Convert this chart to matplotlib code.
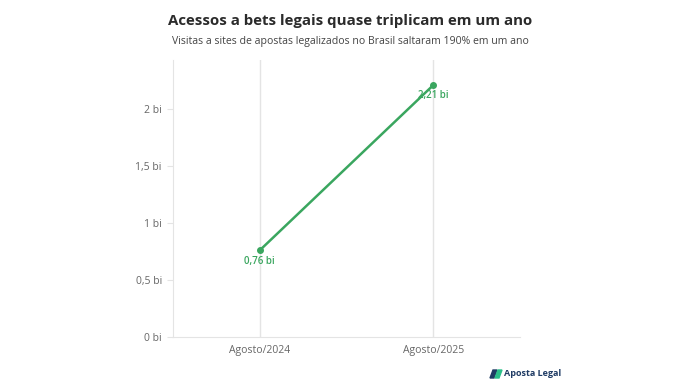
import matplotlib.pyplot as plt
from matplotlib.patches import Polygon

# data
periodos = ['Agosto/2024', 'Agosto/2025']
acessos = [0.76, 2.21]  # bilhões de visitas
rotulos = ['0,76 bi', '2,21 bi']
yticks = [0, 0.5, 1, 1.5, 2]
ytick_labels = ['0 bi', '0,5 bi', '1 bi', '1,5 bi', '2 bi']

verde = '#3aa65f'
cinza = '#e4e4e4'

plt.rcParams['font.family'] = ['Open Sans', 'DejaVu Sans']

fig = plt.figure(figsize=(7, 3.9), dpi=100)
ax = fig.add_axes([0.247, 0.136, 0.496, 0.71])

x = list(range(len(periodos)))
ax.plot(x, acessos, color=verde, lw=1.8, marker='o', ms=4, zorder=3)
ax.text(x[0], acessos[0] - 0.05, rotulos[0], color=verde, fontsize=7,
        ha='center', va='top', fontweight='semibold')
ax.text(x[1], acessos[1] - 0.04, rotulos[1], color=verde, fontsize=7,
        ha='center', va='top', fontweight='semibold', zorder=4)

ax.set_xlim(-0.5, 1.5)
ax.set_ylim(0, 2.43)
ax.set_xticks(x)
ax.set_xticklabels(periodos)
ax.set_yticks(yticks)
ax.set_yticklabels(ytick_labels)
ax.grid(axis='x', color=cinza, lw=1)
ax.set_axisbelow(True)
for s in ['top', 'right']:
    ax.spines[s].set_visible(False)
for s in ['left', 'bottom']:
    ax.spines[s].set_color(cinza)
ax.tick_params(axis='y', colors=cinza, labelcolor='#666666', labelsize=7.5, length=4, pad=4)
ax.tick_params(axis='x', length=0, labelcolor='#666666', labelsize=7.5, pad=6)

fig.text(0.5, 0.945, 'Acessos a bets legais quase triplicam em um ano',
         ha='center', va='center', fontsize=10.8, fontweight='bold', color='#2b2b2b')
fig.text(0.5, 0.893, 'Visitas a sites de apostas legalizados no Brasil saltaram 190% em um ano',
         ha='center', va='center', fontsize=7.6, color='#444444')

# logo (display coords, origem embaixo)
p1 = Polygon([[490, 12], [494, 12], [497, 20], [493, 20]], closed=True,
             transform=None, color='#1f3b64')
p2 = Polygon([[495, 12], [499, 12], [502, 20], [498, 20]], closed=True,
             transform=None, color='#2bbf8a')
fig.patches.extend([p1, p2])
fig.text(504 / 700, 16 / 390, 'Aposta Legal', ha='left', va='center',
         fontsize=6.5, fontweight='bold', color='#1f3b64')

fig.savefig('out.png', dpi=100)
